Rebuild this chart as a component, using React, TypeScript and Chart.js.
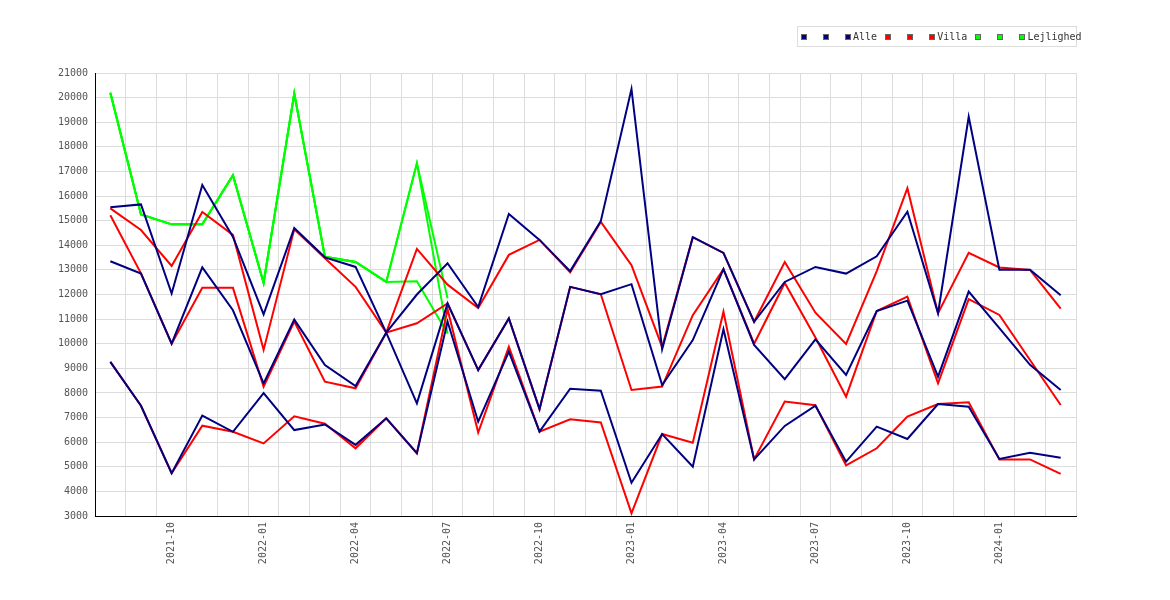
import { useEffect, useRef } from "react"
import Chart from "chart.js/auto"

const months = [
  "2021-08", "2021-09", "2021-10", "2021-11", "2021-12",
  "2022-01", "2022-02", "2022-03", "2022-04", "2022-05", "2022-06",
  "2022-07", "2022-08", "2022-09", "2022-10", "2022-11", "2022-12",
  "2023-01", "2023-02", "2023-03", "2023-04", "2023-05", "2023-06",
  "2023-07", "2023-08", "2023-09", "2023-10", "2023-11", "2023-12",
  "2024-01", "2024-02", "2024-03",
]

// only these months get a label on the x axis
const shownTicks = ["2021-10", "2022-01", "2022-04", "2022-07", "2022-10", "2023-01", "2023-04", "2023-07", "2023-10", "2024-01"]

const alleTop = [15550, 15660, 12040, 16450, 14340, 11190, 14700, 13510, 13120, 10450, 12000, 13270, 11490, 15270, 14220, 12950, 14990, 20350, 9770, 14330, 13690, 10890, 12510, 13120, 12850, 13550, 15360, 11240, 19220, 13010, 13010, 11970]
const alleMid = [13350, 12850, 10000, 13100, 11360, 8390, 10980, 9130, 8280, 10450, 7580, 11640, 8930, 11030, 7340, 12310, 12010, 12420, 8320, 10150, 13030, 9950, 8560, 10180, 8730, 11330, 11750, 8660, 12120, 10630, 9140, 8120]
const alleLow = [9260, 7480, 4740, 7080, 6420, 7990, 6490, 6720, 5890, 6970, 5550, 10900, 6830, 9680, 6430, 8170, 8090, 4350, 6330, 5000, 10590, 5300, 6660, 7480, 5210, 6630, 6130, 7550, 7440, 5320, 5570, 5370]

const villaTop = [15500, 14620, 13160, 15350, 14420, 9750, 14650, 13470, 12310, 10450, 13850, 12400, 11450, 13610, 14220, 12900, 14950, 13190, 9870, 14330, 13690, 10890, 13320, 11260, 9990, 12950, 16320, 11240, 13690, 13100, 13000, 11430]
const villaMid = [15220, 12860, 10000, 12270, 12270, 8250, 10900, 8460, 8190, 10450, 10830, 11640, 8930, 11030, 7340, 12310, 12010, 8120, 8260, 11160, 13030, 10000, 12470, 10250, 7850, 11330, 11910, 8390, 11810, 11170, 9340, 7510]
const villaLow = [9260, 7480, 4740, 6670, 6420, 5950, 7050, 6750, 5750, 6970, 5550, 11400, 6390, 9880, 6430, 6930, 6800, 3110, 6330, 5980, 11300, 5300, 7650, 7500, 5060, 5750, 7040, 7550, 7620, 5300, 5300, 4710]

const lejTop = [20200, 15250, 14850, 14850, 16850, 12470, 20160, 13530, 13320, 12510, 17330, 11850, null, null, null, null, null, null, null, null, null, null, null, null, null, null, null, null, null, null, null, null]
const lejMid = [20200, 15250, 14850, 14850, 16850, 12470, 20160, 13530, 13320, 12510, 17330, 10420, null, null, null, null, null, null, null, null, null, null, null, null, null, null, null, null, null, null, null, null]
const lejLow = [20200, 15250, 14850, 14850, 16850, 12470, 20160, 13530, 13320, 12510, 12540, 10420, null, null, null, null, null, null, null, null, null, null, null, null, null, null, null, null, null, null, null, null]

const series = [
  { label: " ", color: "#000080", data: alleTop },
  { label: " ", color: "#000080", data: alleMid },
  { label: "Alle", color: "#000080", data: alleLow },
  { label: " ", color: "#ff0000", data: villaTop },
  { label: " ", color: "#ff0000", data: villaMid },
  { label: "Villa", color: "#ff0000", data: villaLow },
  { label: " ", color: "#00ff00", data: lejTop },
  { label: " ", color: "#00ff00", data: lejMid },
  { label: "Lejlighed", color: "#00ff00", data: lejLow },
]

const FONT = "DejaVu Sans Mono"

export default function App() {
  const canvasRef = useRef<HTMLCanvasElement>(null)

  useEffect(() => {
    if (!canvasRef.current) return
    const chart = new Chart(canvasRef.current, {
      type: "line",
      data: {
        labels: months,
        datasets: series.map((s) => ({
          label: s.label,
          data: s.data,
          borderColor: s.color,
          backgroundColor: s.color,
          borderWidth: 2,
          pointRadius: 0,
          tension: 0,
          spanGaps: false,
        })),
      },
      options: {
        animation: false,
        responsive: true,
        maintainAspectRatio: false,
        layout: { padding: { top: 73, right: 94, bottom: 0, left: 0 } },
        plugins: { legend: { display: false }, tooltip: { enabled: false } },
        scales: {
          x: {
            offset: true,
            grid: { offset: true, color: "#dcdcdc", drawTicks: false },
            border: { color: "#000", width: 1 },
            ticks: {
              autoSkip: false,
              minRotation: 90,
              maxRotation: 90,
              padding: 6,
              color: "#555",
              font: { family: FONT, size: 10 },
              callback: (_v, i) => (shownTicks.includes(months[i]) ? months[i] : ""),
            },
            afterFit: (scale) => {
              scale.height = 84
            },
          },
          y: {
            min: 3000,
            max: 21000,
            grid: { color: "#dcdcdc", drawTicks: false },
            border: { color: "#000", width: 1 },
            ticks: {
              stepSize: 1000,
              padding: 7,
              color: "#555",
              font: { family: FONT, size: 10 },
              callback: (v) => String(v),
            },
            afterFit: (scale) => {
              scale.width = 95
            },
          },
        },
      },
    })
    return () => chart.destroy()
  }, [])

  return (
    <div style={{ position: "absolute", left: 0, top: 0, width: 1170, height: 600, background: "#fff" }}>
      <canvas ref={canvasRef}></canvas>
      <div
        style={{
          position: "absolute",
          left: 797,
          top: 26,
          width: 280,
          height: 21,
          boxSizing: "border-box",
          border: "1px solid #dcdcdc",
          display: "flex",
          alignItems: "center",
          paddingLeft: 3,
          whiteSpace: "pre",
          fontFamily: FONT,
          fontSize: 10,
          color: "#333",
        }}
      >
        {series.map((s, i) => (
          <span key={i} style={{ display: "inline-flex", alignItems: "center", marginRight: 8 }}>
            <span
              style={{
                display: "inline-block",
                width: 6,
                height: 6,
                boxSizing: "border-box",
                background: s.color,
                border: "1px solid #666",
                marginRight: 2,
              }}
            ></span>
            <span>{s.label}</span>
          </span>
        ))}
      </div>
    </div>
  )
}
